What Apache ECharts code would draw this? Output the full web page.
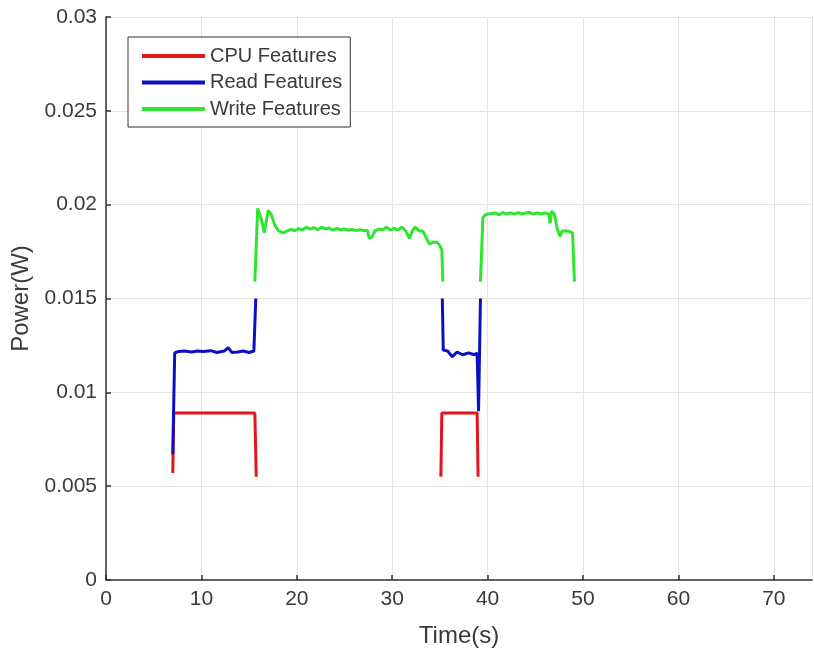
<!DOCTYPE html>
<html>
<head>
<meta charset="utf-8">
<script src="https://cdn.jsdelivr.net/npm/echarts@6/dist/echarts.min.js"></script>
<style>
html,body{margin:0;padding:0;background:#fff;}
#chart{width:814px;height:656px;}
</style>
</head>
<body>
<div id="chart"></div>
<script>
// '-' marks a gap in the trace
const cpuTime = [7.0, 7.1, 8.0, 10.0, 12.0, 14.0, 15.6, 15.75, 25, 35.1, 35.2, 36.5, 38.0, 38.9, 39.0];
const cpuVal  = [0.0057, 0.0089, 0.0089, 0.0089, 0.0089, 0.0089, 0.0089, 0.0055, '-', 0.0055, 0.0089, 0.0089, 0.0089, 0.0089, 0.0055];

const readTime = [7.0, 7.2, 7.6, 8.2, 9.0, 9.6, 10.2, 11.0, 11.6, 12.4, 12.8, 13.2, 13.8, 14.4, 15.0, 15.5, 15.7, 25,
                  35.25, 35.35, 35.8, 36.3, 36.8, 37.4, 38.0, 38.6, 38.9, 39.05, 39.25];
const readVal  = [0.0067, 0.0121, 0.01218, 0.0122, 0.01215, 0.0122, 0.01218, 0.01222, 0.01212, 0.0122, 0.01238, 0.01212, 0.01215, 0.0122, 0.01212, 0.0122, 0.0150, '-',
                  0.0150, 0.01225, 0.0122, 0.0119, 0.01215, 0.0120, 0.0121, 0.0120, 0.0121, 0.0090, 0.0150];

const writeTime = [15.6, 15.9, 16.3, 16.6, 17.0, 17.3, 17.7, 18.1, 18.6, 19.0, 19.4, 19.8, 20.2, 20.6, 21.0, 21.4, 21.8, 22.2, 22.6, 23.0,
                   23.4, 23.8, 24.2, 24.6, 25.0, 25.4, 25.8, 26.2, 26.6, 27.0, 27.4, 27.6, 27.9, 28.2, 28.6, 29.0, 29.4, 29.8, 30.2, 30.6,
                   31.0, 31.4, 31.8, 32.1, 32.4, 32.8, 33.2, 33.6, 33.9, 34.3, 34.7, 35.0, 35.2, 35.3, 37,
                   39.25, 39.5, 39.8, 40.3, 40.8, 41.2, 41.6, 42.0, 42.4, 42.8, 43.2, 43.6, 44.0, 44.4, 44.8, 45.2, 45.6, 46.0, 46.4,
                   46.55, 46.7, 47.0, 47.3, 47.6, 47.8, 48.4, 48.9, 49.1];
const writeVal  = [0.0159, 0.0198, 0.0192, 0.0185, 0.0197, 0.0195, 0.0189, 0.0186, 0.0185, 0.0186, 0.01868, 0.01862, 0.01872, 0.01865, 0.0188, 0.0187, 0.01878, 0.01866, 0.0188, 0.0187,
                   0.01876, 0.01864, 0.01874, 0.01866, 0.0187, 0.01864, 0.01868, 0.01862, 0.01866, 0.01862, 0.01862, 0.0182, 0.0183, 0.0186, 0.0187, 0.01866, 0.0188, 0.01864, 0.01874, 0.01864,
                   0.0188, 0.01862, 0.0182, 0.0186, 0.0188, 0.0186, 0.0186, 0.0182, 0.0179, 0.0180, 0.0180, 0.0178, 0.0176, 0.0159, '-',
                   0.0159, 0.0193, 0.01948, 0.01952, 0.01956, 0.01946, 0.01958, 0.0195, 0.01956, 0.0195, 0.01958, 0.0195, 0.01956, 0.01958, 0.0195, 0.01956, 0.0195, 0.01956, 0.0195,
                   0.0190, 0.01965, 0.0195, 0.0187, 0.0183, 0.0186, 0.0186, 0.0185, 0.0159];

const seriesNames = ['CPU Features', 'Read Features', 'Write Features'];
const seriesColors = ['#e3141c', '#0c10c4', '#2ee62e'];

function pairs(t, v) { return t.map((x, i) => [x, v[i]]); }

const FONT = 'Liberation Sans, Arial, sans-serif';
const TXT = '#3a3a3a';
const chart = echarts.init(document.getElementById('chart'), null, {renderer: 'canvas'});
chart.setOption({
  animation: false,
  backgroundColor: '#ffffff',
  grid: {left: 106, right: 2, top: 17, bottom: 76, containLabel: false},
  legend: {
    orient: 'vertical',
    left: 128, top: 37,
    padding: [9, 8, 8, 14],
    itemGap: 6.5,
    itemWidth: 63, itemHeight: 4,
    icon: 'rect',
    backgroundColor: '#ffffff',
    borderColor: '#333333', borderWidth: 1,
    textStyle: {fontFamily: FONT, fontSize: 20, color: TXT, lineHeight: 20},
    data: seriesNames
  },
  xAxis: {
    type: 'value', min: 0, max: 74, interval: 10,
    name: 'Time(s)', nameLocation: 'middle', nameGap: 44,
    nameTextStyle: {fontFamily: FONT, fontSize: 24, color: TXT},
    axisLine: {show: true, onZero: false, lineStyle: {color: '#333333', width: 1.5}},
    axisTick: {show: true, inside: true, length: 5, lineStyle: {color: '#333333', width: 1.5}},
    axisLabel: {fontFamily: FONT, fontSize: 21, color: TXT, margin: 9, showMaxLabel: false},
    splitLine: {show: true, lineStyle: {color: '#e4e4e4', width: 1}}
  },
  yAxis: {
    type: 'value', min: 0, max: 0.03, interval: 0.005,
    name: 'Power(W)', nameLocation: 'middle', nameGap: 73, nameRotate: 90,
    nameTextStyle: {fontFamily: FONT, fontSize: 24, color: TXT},
    axisLine: {show: true, lineStyle: {color: '#333333', width: 1.5}},
    axisTick: {show: true, inside: true, length: 5, lineStyle: {color: '#333333', width: 1.5}},
    axisLabel: {fontFamily: FONT, fontSize: 21, color: TXT, margin: 9},
    splitLine: {show: true, lineStyle: {color: '#e4e4e4', width: 1}}
  },
  series: [
    {name: seriesNames[0], type: 'line', data: pairs(cpuTime, cpuVal)},
    {name: seriesNames[1], type: 'line', data: pairs(readTime, readVal)},
    {name: seriesNames[2], type: 'line', data: pairs(writeTime, writeVal)}
  ].map((s, i) => Object.assign(s, {
    showSymbol: false, symbol: 'none', connectNulls: false,
    color: seriesColors[i],
    lineStyle: {color: seriesColors[i], width: 3},
    itemStyle: {color: seriesColors[i]}
  }))
});
</script>
</body>
</html>
